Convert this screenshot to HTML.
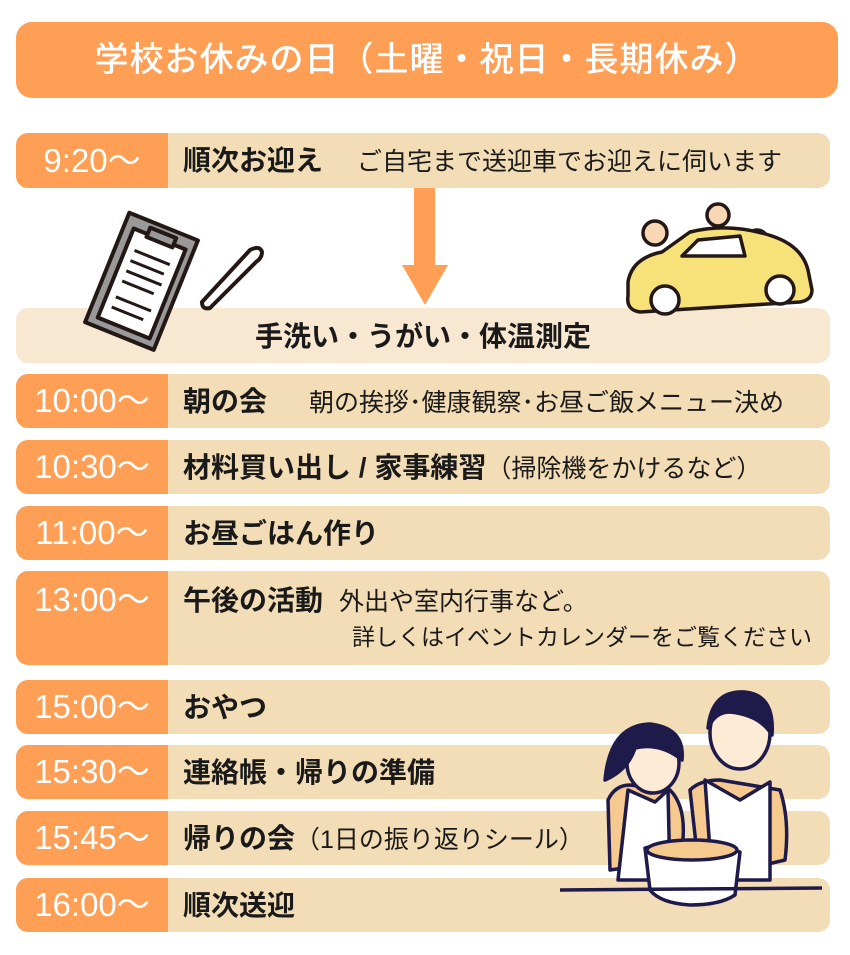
<!DOCTYPE html>
<html><head><meta charset="utf-8"><style>
body{margin:0;width:850px;height:955px;background:#fff;position:relative;overflow:hidden;font-family:"Liberation Sans","Noto Sans CJK JP",sans-serif;color:#1a1a1a}
.a{position:absolute}
.hdr{left:16px;top:22px;width:822px;height:76px;background:#FF9F55;border-radius:16px;color:#fff;font-size:34px;line-height:76px;text-align:center;font-weight:500;letter-spacing:1px}
.row{position:absolute;left:16px;width:814px;background:#F3DDB6;border-radius:12px;overflow:hidden}
.t{position:absolute;left:0;top:0;bottom:0;width:152px;background:#FF9F55;color:#fff;font-size:33px;text-align:center}
.c{position:absolute;left:167px;font-size:28px;font-weight:bold;white-space:nowrap;line-height:56px;top:0}
.n{font-weight:normal;font-size:25px}
</style></head><body>
<div class="a hdr">学校お休みの日（土曜・祝日・長期休み）</div>

<div class="row" style="top:133px;height:55px"><div class="t" style="line-height:55px">9:20～</div><div class="c">順次お迎え<span class="n" style="margin-left:34px">ご自宅まで送迎車でお迎えに伺います</span></div></div>

<div class="a" style="left:414px;top:188px;width:21px;height:78px;background:#FF9F55"></div>
<div class="a" style="left:402px;top:265px;width:0;height:0;border-left:23px solid transparent;border-right:23px solid transparent;border-top:40px solid #FF9F55"></div>

<div class="row" style="top:308px;height:55px;background:#F8E8D2"><div class="c" style="left:0;width:814px;text-align:center;line-height:57px">手洗い・うがい・体温測定</div></div>

<div class="row" style="top:374px;height:54px"><div class="t" style="line-height:54px">10:00～</div><div class="c">朝の会<span class="n" style="margin-left:42px">朝の挨拶･健康観察･お昼ご飯メニュー決め</span></div></div>
<div class="row" style="top:440px;height:54px"><div class="t" style="line-height:54px">10:30～</div><div class="c">材料買い出し / 家事練習<span class="n">（掃除機をかけるなど）</span></div></div>
<div class="row" style="top:506px;height:54px"><div class="t" style="line-height:54px">11:00～</div><div class="c">お昼ごはん作り</div></div>
<div class="row" style="top:571px;height:94px"><div class="t" style="line-height:58px">13:00～</div><div class="c" style="top:2px">午後の活動<span class="n" style="margin-left:16px">外出や室内行事など。</span></div><div class="c n" style="left:336px;top:38px;font-size:23px">詳しくはイベントカレンダーをご覧ください</div></div>
<div class="row" style="top:680px;height:54px"><div class="t" style="line-height:54px">15:00～</div><div class="c">おやつ</div></div>
<div class="row" style="top:745px;height:54px"><div class="t" style="line-height:54px">15:30～</div><div class="c">連絡帳・帰りの準備</div></div>
<div class="row" style="top:811px;height:54px"><div class="t" style="line-height:54px">15:45～</div><div class="c">帰りの会<span class="n">（1日の振り返りシール）</span></div></div>
<div class="row" style="top:878px;height:54px"><div class="t" style="line-height:54px">16:00～</div><div class="c">順次送迎</div></div>

<svg class="a" style="left:0;top:0" width="850" height="955">
<g transform="rotate(22 140 285)" stroke="#231815" stroke-width="4" stroke-linejoin="round">
<rect x="103" y="222" width="74" height="118" fill="#999"/>
<rect x="113" y="235" width="56" height="96" fill="#fff"/>
<rect x="128" y="228" width="28" height="10" fill="#999"/>
<g stroke-width="3"><line x1="122" y1="255" x2="160" y2="255"/><line x1="122" y1="266" x2="158" y2="266"/><line x1="122" y1="277" x2="160" y2="277"/><line x1="122" y1="288" x2="156" y2="288"/><line x1="122" y1="305" x2="160" y2="305"/><line x1="122" y1="316" x2="156" y2="316"/></g>
</g>
<g stroke="#231815" stroke-width="4" fill="#fff"><path d="M202 302 L250 250 Q260 245 262 252 Q262 258 256 262 L210 308 Q202 310 202 302Z"/></g>
<g stroke="#231815" stroke-width="3.5" stroke-linejoin="round">
<circle cx="655" cy="233" r="12" fill="#F9D7B5"/><circle cx="718" cy="215" r="11" fill="#F9D7B5"/><circle cx="757" cy="241" r="11" fill="#F9D7B5"/><circle cx="715" cy="248" r="12" fill="#F9D7B5"/>
<path d="M628 282 Q632 258 662 252 L690 232 Q730 222 772 236 Q802 246 808 270 L812 290 Q812 300 800 302 L640 312 Q626 310 628 296Z" fill="#F7E27A"/>
<path d="M682 256 L698 240 L740 236 L745 256Z" fill="#fff"/>
<circle cx="665" cy="300" r="14" fill="#fff"/><circle cx="780" cy="290" r="14" fill="#fff"/>
</g>
<g stroke="#1E1A4A" stroke-width="3.5" stroke-linejoin="round">
<path d="M690 790 Q700 780 720 780 L780 790 Q790 820 785 860 L700 880Z" fill="#F6C98F"/>
<path d="M705 780 L740 800 L770 782 L770 880 L712 880Z" fill="#fff"/>
<ellipse cx="740" cy="733" rx="30" ry="36" fill="#FDEBD6"/>
<path d="M708 728 Q712 690 745 692 Q775 695 772 735 Q760 715 730 712 Q715 712 708 728Z" fill="#1E1A4A"/>
<path d="M608 800 Q615 785 630 785 L670 790 Q690 810 680 860 L610 870Z" fill="#F6C98F"/>
<path d="M628 790 L655 802 L668 790 L670 880 L618 880Z" fill="#fff"/>
<ellipse cx="653" cy="763" rx="26" ry="30" fill="#FDEBD6"/>
<path d="M605 780 Q610 725 650 724 Q685 728 682 760 Q660 742 635 748 Q628 770 605 780Z" fill="#1E1A4A"/>
<path d="M645 848 Q690 835 740 852 L735 895 Q720 905 690 905 Q660 903 650 890Z" fill="#fff"/>
<ellipse cx="692" cy="850" rx="45" ry="10" fill="#F6C98F"/>
<line x1="560" y1="890" x2="822" y2="888"/>
</g>
</svg>
</body></html>
